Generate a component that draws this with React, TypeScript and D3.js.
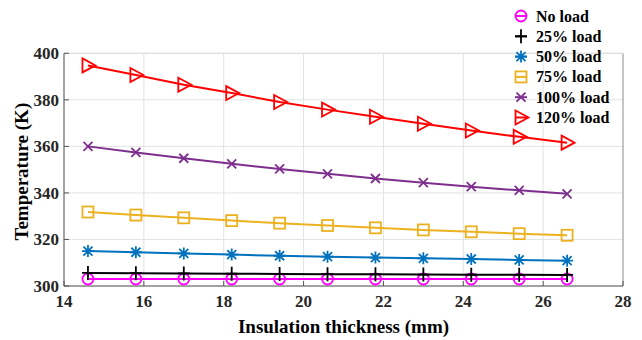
import React from "react";
import * as d3 from "d3";

const thickness = [14.6, 15.8, 17.0, 18.2, 19.4, 20.6, 21.8, 23.0, 24.2, 25.4, 26.6];
const noLoad = [303, 303, 303, 303, 303, 303, 303, 303, 303, 303, 303];
const load25 = [305.6, 305.5, 305.4, 305.3, 305.2, 305.1, 305.0, 304.9, 304.85, 304.8, 304.75];
const load50 = [315.0, 314.5, 314.0, 313.5, 313.0, 312.6, 312.2, 311.9, 311.6, 311.2, 310.9];
const load75 = [331.8, 330.5, 329.3, 328.1, 327.0, 326.0, 325.0, 324.1, 323.3, 322.5, 321.8];
const load100 = [360.0, 357.4, 354.9, 352.5, 350.3, 348.2, 346.2, 344.4, 342.7, 341.1, 339.6];
const load120 = [394.8, 390.7, 386.5, 382.9, 379.1, 375.8, 372.7, 369.7, 366.8, 364.1, 361.6];

const xTicks = [14, 16, 18, 20, 22, 24, 26, 28];
const yTicks = [300, 320, 340, 360, 380, 400];

const seriesNames = ["No load", "25% load", "50% load", "75% load", "100% load", "120% load"];
const seriesValues = [noLoad, load25, load50, load75, load100, load120];
const seriesColors = ["#FF00FF", "#000000", "#0072BD", "#EDB120", "#7E2F8E", "#FF0000"];
const seriesMarkers = ["circle", "plus", "star", "square", "x", "triangle"];

const FONT = "'Liberation Serif', 'Times New Roman', serif";

function Marker({ type, x, y, color }: { type: string; x: number; y: number; color: string }) {
  const sw = 1.8;
  switch (type) {
    case "circle":
      return <circle cx={x} cy={y} r={5.5} fill="none" stroke={color} strokeWidth={sw} />;
    case "plus":
      return (
        <path d={`M${x - 6},${y}H${x + 6}M${x},${y - 7}V${y + 7}`} stroke={color} strokeWidth={sw} fill="none" />
      );
    case "star": {
      const r = 6;
      const d = r * 0.75;
      return (
        <path
          d={`M${x - r},${y}H${x + r}M${x},${y - r}V${y + r}M${x - d},${y - d}L${x + d},${y + d}M${x - d},${y + d}L${x + d},${y - d}`}
          stroke={color}
          strokeWidth={sw}
          fill="none"
        />
      );
    }
    case "square":
      return <rect x={x - 5.5} y={y - 5.5} width={11} height={11} fill="none" stroke={color} strokeWidth={sw} />;
    case "x": {
      const d = 4.5;
      return (
        <path d={`M${x - d},${y - d}L${x + d},${y + d}M${x - d},${y + d}L${x + d},${y - d}`} stroke={color} strokeWidth={sw} fill="none" />
      );
    }
    case "triangle":
      return (
        <path d={`M${x - 5.5},${y - 7}L${x + 7.5},${y}L${x - 5.5},${y + 7}Z`} fill="none" stroke={color} strokeWidth={sw} strokeLinejoin="miter" />
      );
    default:
      return null;
  }
}

export default function App() {
  const W = 642;
  const H = 340;
  const left = 64;
  const right = 623;
  const top = 53.3;
  const bottom = 286;

  const x = d3.scaleLinear().domain([14, 28]).range([left, right]);
  const y = d3.scaleLinear().domain([300, 400]).range([bottom, top]);

  const line = d3
    .line<number>()
    .x((_, i) => x(thickness[i]))
    .y((v) => y(v));

  const legendX = 521;
  const legendY0 = 16;
  const legendDy = 20.3;

  return (
    <svg width={W} height={H} style={{ position: "absolute", left: 0, top: 0, background: "#fff" }}>
      <rect x={0} y={0} width={W} height={H} fill="#fff" />
      {/* grid */}
      {xTicks.map((t) => (
        <line key={"gx" + t} x1={x(t)} x2={x(t)} y1={top} y2={bottom} stroke="#e3e3e3" strokeWidth={1} />
      ))}
      {yTicks.map((t) => (
        <line key={"gy" + t} x1={left} x2={right} y1={y(t)} y2={y(t)} stroke="#e3e3e3" strokeWidth={1} />
      ))}
      {/* box */}
      <line x1={left} x2={left} y1={top} y2={bottom} stroke="#555" strokeWidth={1} />
      <line x1={left} x2={right} y1={bottom} y2={bottom} stroke="#555" strokeWidth={1} />
      <line x1={right} x2={right} y1={top} y2={bottom} stroke="#999" strokeWidth={1} />
      <line x1={left} x2={right} y1={top} y2={top} stroke="#ddd" strokeWidth={1} />
      {/* ticks */}
      {yTicks.map((t) => (
        <line key={"ty" + t} x1={left} x2={left + 5} y1={y(t)} y2={y(t)} stroke="#555" strokeWidth={1} />
      ))}
      {xTicks.map((t) => (
        <line key={"tx" + t} x1={x(t)} x2={x(t)} y1={bottom} y2={bottom - 5} stroke="#555" strokeWidth={1} />
      ))}
      {/* tick labels */}
      {yTicks.map((t) => (
        <text key={"ly" + t} x={left - 5} y={y(t) + 6} textAnchor="end" fontFamily={FONT} fontWeight="bold" fontSize={17} fill="#262626">
          {t}
        </text>
      ))}
      {xTicks.map((t) => (
        <text key={"lx" + t} x={x(t)} y={bottom + 21} textAnchor="middle" fontFamily={FONT} fontWeight="bold" fontSize={17} fill="#262626">
          {t}
        </text>
      ))}
      {/* axis labels */}
      <text x={(left + right) / 2} y={333} textAnchor="middle" fontFamily={FONT} fontWeight="bold" fontSize={19} fill="#000">
        Insulation thickness (mm)
      </text>
      <text
        transform={`translate(28, ${(top + bottom) / 2 + 2}) rotate(-90)`}
        textAnchor="middle"
        fontFamily={FONT}
        fontWeight="bold"
        fontSize={19}
        fill="#000"
      >
        Temperature (K)
      </text>
      {/* series */}
      {seriesValues.map((vals, si) => (
        <g key={"s" + si}>
          <path d={line(vals) || ""} fill="none" stroke={seriesColors[si]} strokeWidth={2} />
          {vals.map((v, i) => (
            <Marker key={i} type={seriesMarkers[si]} x={x(thickness[i])} y={y(v)} color={seriesColors[si]} />
          ))}
        </g>
      ))}
      {/* legend */}
      {seriesNames.map((n, i) => {
        const ly = legendY0 + i * legendDy;
        return (
          <g key={"lg" + i}>
            <line x1={legendX - 6} x2={legendX + 6} y1={ly} y2={ly} stroke={seriesColors[i]} strokeWidth={2} />
            <Marker type={seriesMarkers[i]} x={legendX} y={ly} color={seriesColors[i]} />
            <text x={536} y={ly + 5.5} fontFamily={FONT} fontWeight="bold" fontSize={16} fill="#000">
              {n}
            </text>
          </g>
        );
      })}
    </svg>
  );
}
